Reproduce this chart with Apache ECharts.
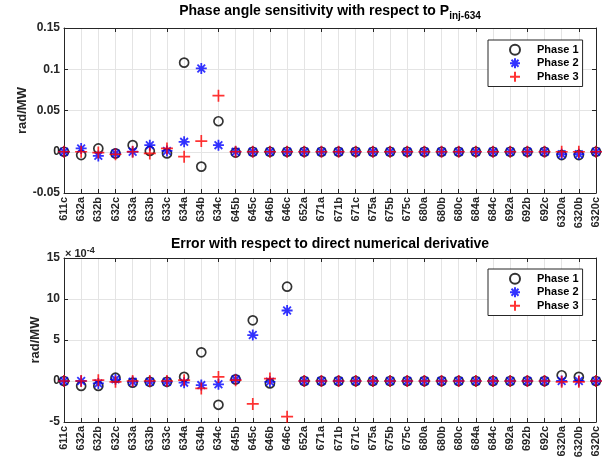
<!DOCTYPE html>
<html><head><meta charset="utf-8">
<script src="https://cdn.jsdelivr.net/npm/echarts@6/dist/echarts.min.js"></script>
<style>html,body{margin:0;padding:0;background:#fff}#c{width:613px;height:464px}</style>
</head><body><div id="c"></div>
<script>
const categories = ['611c','632a','632b','632c','633a','633b','633c','634a','634b','634c','645b','645c','646b','646c','652a','671a','671b','671c','675a','675b','675c','680a','680b','680c','684a','684c','692a','692b','692c','6320a','6320b','6320c'];
// Top: phase angle sensitivity (rad/MW)
const sensPhase1 = [0,-0.004,0.004,-0.002,0.008,0.001,-0.002,0.108,-0.018,0.037,-0.001,0,0,0,0,0,0,0,0,0,0,0,0,0,0,0,0,0,0,-0.004,-0.004,0];
const sensPhase2 = [0,0.004,-0.005,-0.002,0,0.008,0.001,0.012,0.101,0.008,0,0,0,0,0,0,0,0,0,0,0,0,0,0,0,0,0,0,0,-0.003,-0.003,0];
const sensPhase3 = [0,0,-0.001,-0.003,0,-0.002,0.004,-0.006,0.013,0.068,0,0,0,0,0,0,0,0,0,0,0,0,0,0,0,0,0,0,0,0,0,0];
// Bottom: error (units of 1e-4 rad/MW)
const errPhase1 = [0,-0.6,-0.6,0.4,-0.2,-0.1,-0.1,0.5,3.5,-2.9,0.2,7.4,-0.3,11.5,0,0,0,0,0,0,0,0,0,0,0,0,0,0,0,0.7,0.5,0];
const errPhase2 = [0,0,-0.3,0.2,-0.1,-0.1,-0.1,-0.2,-0.5,-0.4,0.2,5.6,-0.1,8.6,0,0,0,0,0,0,0,0,0,0,0,0,0,0,0,0,0,0];
const errPhase3 = [0,0,0.1,-0.1,0,0,0,0.1,-0.9,0.5,0.1,-2.8,0.3,-4.35,0,0,0,0,0,0,0,0,0,0,0,0,0,0,0,-0.1,-0.1,0];
const topTicks = [-0.05, 0.15, 0.05];
const botTicks = [-5, 15, 5];

const FONT = 'Liberation Sans';
const AX = '#262626';
const GRIDC = '#e4e4e4';
const plusPath = 'path://M0,5L10,5M5,0L5,10';
const starPath = 'path://M0,5L10,5M5,0L5,10M1.5,1.5L8.5,8.5M1.5,8.5L8.5,1.5';

const chart = echarts.init(document.getElementById('c'), null, {renderer:'canvas'});

function xAxes(gi){
  return [
    {type:'category', gridIndex:gi, data:categories, boundaryGap:false, position:'bottom',
     axisLine:{onZero:false, lineStyle:{color:AX,width:1}}, axisTick:{inside:true,length:4,lineStyle:{color:AX}},
     axisLabel:{rotate:90, interval:0, color:'#262626', fontFamily:FONT, fontWeight:'bold', fontSize:11, margin:4},
     splitLine:{show:true, lineStyle:{color:GRIDC,width:1}}},
    {type:'category', gridIndex:gi, data:categories, boundaryGap:false, position:'top',
     axisLine:{onZero:false, lineStyle:{color:AX,width:1}}, axisTick:{inside:true,length:4,lineStyle:{color:AX}},
     axisLabel:{show:false}, splitLine:{show:false}}
  ];
}
function yAxes(gi, t, gap){
  return [
    {type:'value', gridIndex:gi, min:t[0], max:t[1], interval:t[2], position:'left',
     name:'rad/MW', nameLocation:'middle', nameGap:gap, nameRotate:90, nameMoveOverlap:false,
     nameTextStyle:{fontFamily:FONT, fontWeight:'bold', fontSize:13, color:'#262626'},
     axisLine:{show:true, onZero:false, lineStyle:{color:AX,width:1}}, axisTick:{show:true, inside:true,length:4,lineStyle:{color:AX}},
     axisLabel:{color:'#262626', fontFamily:FONT, fontWeight:'bold', fontSize:12, margin:4,
       formatter: v => String(Math.round(v*1000)/1000)},
     splitLine:{show:true, lineStyle:{color:GRIDC,width:1}}},
    {type:'value', gridIndex:gi, min:t[0], max:t[1], interval:t[2], position:'right',
     axisLine:{show:true, onZero:false, lineStyle:{color:AX,width:1}}, axisTick:{show:true, inside:true,length:4,lineStyle:{color:AX}},
     axisLabel:{show:false}, splitLine:{show:false}}
  ];
}
function ser(name, data, gi, kind){
  const base = {name, type:'scatter', data, xAxisIndex:gi*2, yAxisIndex:gi*2, symbolKeepAspect:true, z: 2};
  if(kind===1) return Object.assign(base, {symbol:'circle', symbolSize:9, itemStyle:{color:'rgba(0,0,0,0)', borderColor:'#000', borderWidth:1.7}});
  if(kind===2) return Object.assign(base, {symbol:starPath, symbolSize:11, itemStyle:{color:'rgba(0,0,0,0)', borderColor:'#0000ff', borderWidth:1.8}, z:3});
  return Object.assign(base, {symbol:plusPath, symbolSize:12, itemStyle:{color:'rgba(0,0,0,0)', borderColor:'#ff0000', borderWidth:1.7}, z:4});
}
function legend(top){
  return {orient:'vertical', left:488, top:top, itemWidth:34, itemHeight:10, itemGap:0,
    padding:[3,4,3,21], borderColor:AX, borderWidth:1, backgroundColor:'#fff',
    textStyle:{fontFamily:FONT, fontWeight:'bold', fontSize:11, color:'#000', lineHeight:13.5},
    data:['Phase 1','Phase 2','Phase 3']};
}

chart.setOption({
  animation:false,
  backgroundColor:'#fff',
  title:[
    {text:'Phase angle sensitivity with respect to P{sub|inj-634}', left:330, top:1, textAlign:'center', padding:0,
     textStyle:{fontFamily:FONT, fontWeight:'bold', fontSize:14, color:'#000',
       rich:{sub:{fontFamily:FONT, fontWeight:'bold', fontSize:10, color:'#000', verticalAlign:'bottom', padding:[10,0,0,0]}}}},
    {text:'Error with respect to direct numerical derivative', left:330, top:237, textAlign:'center', padding:0,
     textStyle:{fontFamily:FONT, fontWeight:'bold', fontSize:14, color:'#000'}}
  ],
  legend:[legend(40), legend(269)],
  grid:[
    {left:64, right:17, top:28, height:165, containLabel:false},
    {left:64, right:17, top:258, height:164, containLabel:false}
  ],
  xAxis:[...xAxes(0), ...xAxes(1)],
  yAxis:[...yAxes(0, topTicks, 35), ...yAxes(1, botTicks, 22)],
  series:[
    ser('Phase 1', sensPhase1, 0, 1), ser('Phase 2', sensPhase2, 0, 2), ser('Phase 3', sensPhase3, 0, 3),
    ser('Phase 1', errPhase1, 1, 1), ser('Phase 2', errPhase2, 1, 2), ser('Phase 3', errPhase3, 1, 3)
  ],
  graphic:[
    {type:'text', left:65, top:246, style:{text:'× 10{s|-4}', fontFamily:FONT, fontWeight:'bold', fontSize:11, fill:'#262626',
      rich:{s:{fontFamily:FONT, fontWeight:'bold', fontSize:9, fill:'#262626', verticalAlign:'top', padding:[0,0,6,0]}}}}
  ]
});
</script></body></html>
